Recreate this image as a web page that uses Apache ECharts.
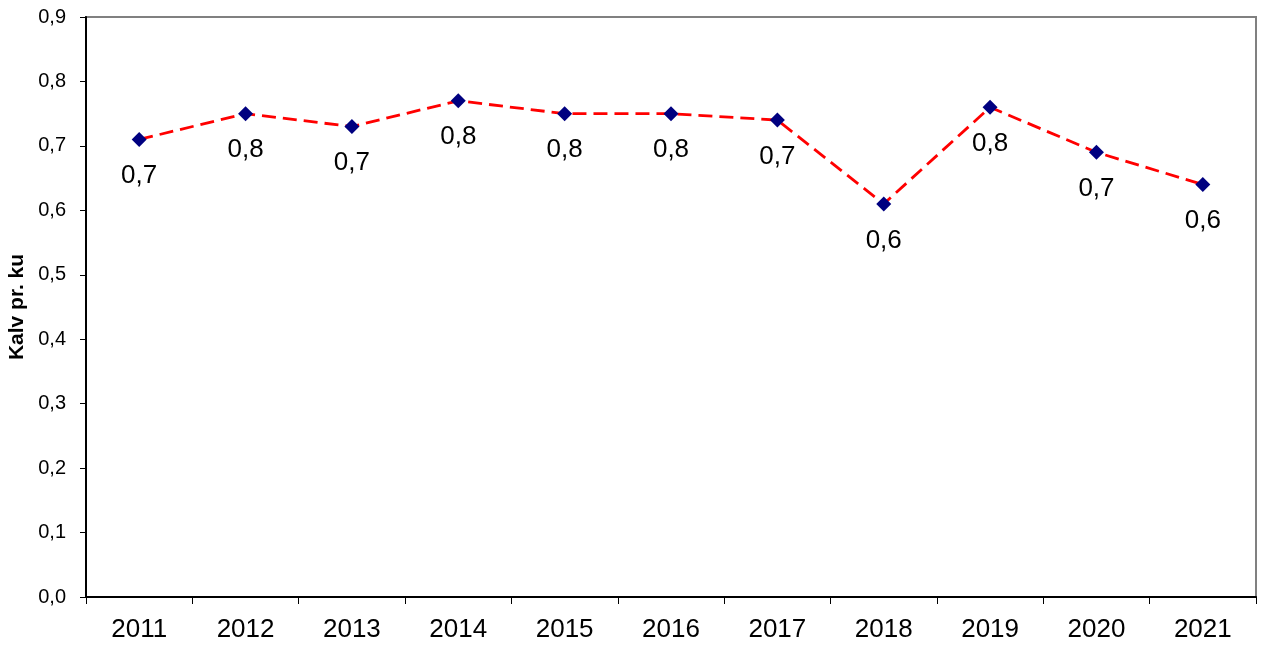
<!DOCTYPE html>
<html><head><meta charset="utf-8">
<script src="https://cdn.jsdelivr.net/npm/echarts@6/dist/echarts.min.js"></script>
<style>html,body{margin:0;padding:0;background:#fff}#c{width:1263px;height:648px}</style>
</head><body><div id="c"></div>
<script>
const years = ['2011','2012','2013','2014','2015','2016','2017','2018','2019','2020','2021'];
const kalvPrKu = [0.71,0.75,0.73,0.77,0.75,0.75,0.74,0.61,0.76,0.69,0.64];
const yAxisName = 'Kalv pr. ku';
const fmt = v => v.toFixed(1).replace('.', ',');
const chart = echarts.init(document.getElementById('c'));
chart.setOption({
  animation:false,
  grid:{left:86,right:7,top:17,bottom:51,show:true,borderColor:'#808080',borderWidth:2,containLabel:false,outerBoundsMode:'none'},
  xAxis:{type:'category',data:years,boundaryGap:true,
    axisLine:{lineStyle:{color:'#000',width:2}},
    axisTick:{show:true,length:7,lineStyle:{color:'#000',width:1}},
    axisLabel:{fontSize:26,color:'#000',fontFamily:'Liberation Sans, Arial',margin:20}},
  yAxis:{type:'value',min:0,max:0.9,interval:0.1,name:yAxisName,nameLocation:'middle',nameGap:55,
    nameTextStyle:{fontSize:21,fontWeight:'bold',color:'#000',fontFamily:'Liberation Sans, Arial'},
    splitLine:{show:false},
    axisLine:{show:true,lineStyle:{color:'#000',width:2}},
    axisTick:{show:true,length:6,lineStyle:{color:'#000'}},
    axisLabel:{fontSize:20,color:'#000',fontFamily:'Liberation Sans, Arial',margin:20,formatter:v=>fmt(v)}},
  series:[{type:'line',data:kalvPrKu,symbol:'diamond',symbolSize:15,
    itemStyle:{color:'#000080'},
    lineStyle:{color:'#ff0000',width:2.8,type:[14,7]},
    label:{show:true,position:'bottom',distance:16,fontSize:26,color:'#000',fontFamily:'Liberation Sans, Arial',
      formatter:p=>fmt(p.value)}}]
});
</script></body></html>
